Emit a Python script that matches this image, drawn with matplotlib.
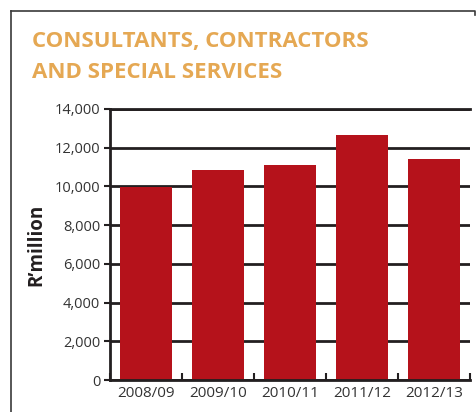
import numpy as np
import matplotlib.pyplot as plt
from matplotlib.lines import Line2D

years = ['2008/09', '2009/10', '2010/11', '2011/12', '2012/13']
spend = [9950, 10850, 11100, 12650, 11400]   # R' million
yticks = [0, 2000, 4000, 6000, 8000, 10000, 12000, 14000]

bar_red = '#b5121b'
title_gold = '#e5a853'
ink = '#231f20'

plt.rcParams['font.family'] = ['Open Sans', 'DejaVu Sans']

fig = plt.figure(figsize=(4.77, 4.12), dpi=100)

# panel frame: left and top edge, with a short turn down at the top right
fx, fy = 11 / 477, 1 - 11 / 412
fig.add_artist(Line2D([fx, fx], [0, fy], transform=fig.transFigure,
                      color='#3a3a3a', linewidth=1.2))
fig.add_artist(Line2D([fx, 475.5 / 477, 475.5 / 477], [fy, fy, 1 - 15 / 412],
                      transform=fig.transFigure, color='#3a3a3a',
                      linewidth=1.2))

fig.text(32 / 477, 1 - 42 / 412, 'CONSULTANTS, CONTRACTORS', color=title_gold,
         fontsize=16, fontweight='bold', va='center', ha='left')
fig.text(32 / 477, 1 - 72 / 412, 'AND SPECIAL SERVICES', color=title_gold,
         fontsize=16, fontweight='bold', va='center', ha='left')

ax = fig.add_axes([110 / 477, 1 - 380 / 412, 360 / 477, 271 / 412])
x = np.arange(len(years))
ax.bar(x, spend, width=0.72, color=bar_red, zorder=3)

ax.set_xlim(-0.5, len(years) - 0.5)
ax.set_ylim(0, 14000)
ax.set_yticks(yticks)
ax.set_yticklabels([f'{v:,}' for v in yticks])
ax.set_xticks(x)
ax.set_xticklabels(years)
ax.set_xticks(np.arange(len(years) + 1) - 0.5, minor=True)

ax.set_axisbelow(True)
ax.yaxis.grid(True, color=ink, linewidth=2)

ax.spines['right'].set_visible(False)
for s in ['left', 'bottom', 'top']:
    ax.spines[s].set_color(ink)
    ax.spines[s].set_linewidth(2)
ax.spines['left'].set_zorder(4)
ax.spines['bottom'].set_zorder(4)
ax.spines['top'].set_zorder(1)

ax.tick_params(axis='y', direction='out', length=4, width=1.5, color=ink,
               labelsize=10.5, labelcolor='#333333', pad=3)
ax.tick_params(axis='x', which='major', length=0, labelsize=11,
               labelcolor='#333333', pad=4)
ax.tick_params(axis='x', which='minor', direction='in', length=5, width=1.5,
               color=ink)

ax.set_ylabel('R\u2019million', fontsize=13.5, fontweight='bold', color=ink,
              labelpad=6)

fig.savefig('out.png', dpi=100)
